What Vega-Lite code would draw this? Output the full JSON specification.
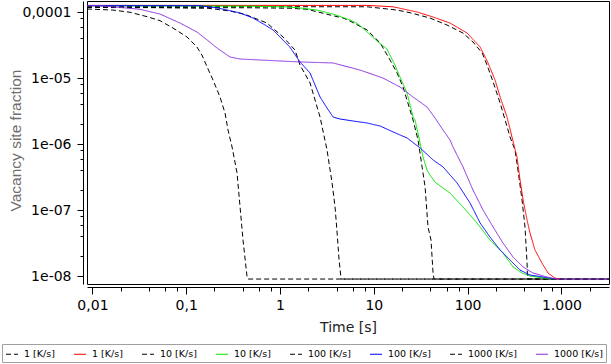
{
  "$schema": "https://vega.github.io/schema/vega-lite/v6.json",
  "width": 522,
  "height": 283,
  "autosize": "none",
  "padding": {"left": 87, "top": 1, "right": 2, "bottom": 80},
  "background": "white",
  "config": {
    "view": {"stroke": "black", "strokeWidth": 1},
    "font": "DejaVu Sans",
    "legend": {
      "orient": "none",
      "legendX": -85,
      "legendY": 343,
      "direction": "horizontal",
      "columns": 8,
      "gridAlign": "each",
      "padding": 3,
      "strokeColor": "#a0a0a0",
      "fillColor": "white",
      "symbolType": "stroke",
      "symbolSize": 144,
      "symbolStrokeWidth": 1.2,
      "labelFont": "DejaVu Sans",
      "labelFontSize": 9.5,
      "labelColor": "black",
      "labelOffset": 5,
      "columnPadding": 16,
      "rowPadding": 0
    }
  },
  "datasets": {
    "curves": [
      {"s":"d1","t":0.00875,"v":1.21e-4},{"s":"d1","t":8.47,"v":1.2e-4},{"s":"d1","t":17.7,"v":1.07e-4},{"s":"d1","t":24.3,"v":9.76e-5},{"s":"d1","t":39.7,"v":8.1e-5},{"s":"d1","t":60.3,"v":6.35e-5},{"s":"d1","t":89.3,"v":4.8e-5},{"s":"d1","t":114,"v":3.51e-5},{"s":"d1","t":143,"v":2.39e-5},{"s":"d1","t":161,"v":1.57e-5},{"s":"d1","t":187,"v":8.7e-6},{"s":"d1","t":222,"v":4.18e-6},{"s":"d1","t":251,"v":2.31e-6},{"s":"d1","t":283,"v":1.28e-6},{"s":"d1","t":320,"v":8.1e-7},{"s":"d1","t":344,"v":4.04e-7},{"s":"d1","t":380,"v":1.42e-7},{"s":"d1","t":409,"v":5.52e-8},{"s":"d1","t":430,"v":1.57e-8},{"s":"d1","t":435,"v":9e-9},{"s":"d1","t":3200,"v":9e-9},

      {"s":"d10","t":0.00875,"v":1.17e-4},{"s":"d10","t":0.481,"v":1.16e-4},{"s":"d10","t":1.28,"v":1.14e-4},{"s":"d10","t":1.94,"v":1.1e-4},{"s":"d10","t":3.42,"v":9e-5},{"s":"d10","t":4.71,"v":8.1e-5},{"s":"d10","t":5.57,"v":7.3e-5},{"s":"d10","t":8.47,"v":5.34e-5},{"s":"d10","t":11.7,"v":3.39e-5},{"s":"d10","t":14.9,"v":1.87e-5},{"s":"d10","t":17.7,"v":1.19e-5},{"s":"d10","t":20.5,"v":7.3e-6},{"s":"d10","t":24.3,"v":3.27e-6},{"s":"d10","t":26.2,"v":2.31e-6},{"s":"d10","t":29.6,"v":1.15e-6},{"s":"d10","t":32.7,"v":4.49e-7},{"s":"d10","t":35.2,"v":2.23e-7},{"s":"d10","t":37.8,"v":5.52e-8},{"s":"d10","t":40.7,"v":3.5e-8},{"s":"d10","t":42.8,"v":1.11e-8},{"s":"d10","t":43.8,"v":9e-9},{"s":"d10","t":3200,"v":9e-9},

      {"s":"d100","t":0.00875,"v":1.18e-4},{"s":"d100","t":0.0411,"v":1.17e-4},{"s":"d100","t":0.171,"v":1.14e-4},{"s":"d100","t":0.293,"v":1.035e-4},{"s":"d100","t":0.424,"v":9.2e-5},{"s":"d100","t":0.569,"v":7.8e-5},{"s":"d100","t":0.726,"v":6.8e-5},{"s":"d100","t":1.076,"v":4.18e-5},{"s":"d100","t":1.445,"v":2.65e-5},{"s":"d100","t":1.633,"v":1.57e-5},{"s":"d100","t":2.09,"v":8.4e-6},{"s":"d100","t":2.67,"v":2.56e-6},{"s":"d100","t":3.17,"v":8.1e-7},{"s":"d100","t":3.59,"v":2.56e-7},{"s":"d100","t":3.86,"v":1.11e-7},{"s":"d100","t":4.06,"v":4.49e-8},{"s":"d100","t":4.26,"v":1.75e-8},{"s":"d100","t":4.48,"v":9e-9},{"s":"d100","t":3200,"v":9e-9},

      {"s":"d1000","t":0.00875,"v":1.11e-4},{"s":"d1000","t":0.01205,"v":1.09e-4},{"s":"d1000","t":0.0166,"v":1.07e-4},{"s":"d1000","t":0.0252,"v":9.9e-5},{"s":"d1000","t":0.0382,"v":8.5e-5},{"s":"d1000","t":0.0526,"v":7.38e-5},{"s":"d1000","t":0.0722,"v":5.72e-5},{"s":"d1000","t":0.102,"v":4.18e-5},{"s":"d1000","t":0.13,"v":2.95e-5},{"s":"d1000","t":0.147,"v":2.23e-5},{"s":"d1000","t":0.167,"v":1.47e-5},{"s":"d1000","t":0.193,"v":9.33e-6},{"s":"d1000","t":0.229,"v":5.15e-6},{"s":"d1000","t":0.259,"v":2.95e-6},{"s":"d1000","t":0.279,"v":1.63e-6},{"s":"d1000","t":0.308,"v":9e-7},{"s":"d1000","t":0.348,"v":3.64e-7},{"s":"d1000","t":0.375,"v":1.11e-7},{"s":"d1000","t":0.403,"v":3.5e-8},{"s":"d1000","t":0.445,"v":9.7e-9},{"s":"d1000","t":0.455,"v":9e-9},{"s":"d1000","t":3200,"v":9e-9},

      {"s":"s1","t":0.00875,"v":1.26e-4},{"s":"s1","t":8.47,"v":1.26e-4},{"s":"s1","t":16,"v":1.2e-4},{"s":"s1","t":28.9,"v":1e-4},{"s":"s1","t":42.8,"v":8.4e-5},{"s":"s1","t":64.9,"v":6.8e-5},{"s":"s1","t":98.6,"v":4.8e-5},{"s":"s1","t":136,"v":2.95e-5},{"s":"s1","t":165,"v":1.69e-5},{"s":"s1","t":196,"v":9.33e-6},{"s":"s1","t":222,"v":5.15e-6},{"s":"s1","t":263,"v":2.56e-6},{"s":"s1","t":297,"v":1.28e-6},{"s":"s1","t":336,"v":6.35e-7},{"s":"s1","t":362,"v":2.85e-7},{"s":"s1","t":390,"v":1.42e-7},{"s":"s1","t":430,"v":7.05e-8},{"s":"s1","t":462,"v":4.49e-8},{"s":"s1","t":522,"v":2.48e-8},{"s":"s1","t":621,"v":1.57e-8},{"s":"s1","t":719,"v":1.11e-8},{"s":"s1","t":855,"v":9.3e-9},{"s":"s1","t":966,"v":9e-9},

      {"s":"s10","t":0.00875,"v":1.245e-4},{"s":"s10","t":0.481,"v":1.225e-4},{"s":"s10","t":1.28,"v":1.19e-4},{"s":"s10","t":1.633,"v":1.15e-4},{"s":"s10","t":2.48,"v":1.07e-4},{"s":"s10","t":3.67,"v":9.3e-5},{"s":"s10","t":5.57,"v":7.57e-5},{"s":"s10","t":6.79,"v":6.58e-5},{"s":"s10","t":8.47,"v":4.98e-5},{"s":"s10","t":11.1,"v":3.51e-5},{"s":"s10","t":13.8,"v":2.75e-5},{"s":"s10","t":16.8,"v":1.57e-5},{"s":"s10","t":19,"v":1.035e-5},{"s":"s10","t":22.6,"v":5.93e-6},{"s":"s10","t":26.2,"v":2.56e-6},{"s":"s10","t":27.5,"v":2.31e-6},{"s":"s10","t":31.1,"v":1.035e-6},{"s":"s10","t":33.5,"v":6.35e-7},{"s":"s10","t":36.9,"v":4.04e-7},{"s":"s10","t":39.7,"v":3.39e-7},{"s":"s10","t":44.9,"v":2.65e-7},{"s":"s10","t":54.7,"v":2.15e-7},{"s":"s10","t":64.9,"v":1.81e-7},{"s":"s10","t":89.3,"v":1.11e-7},{"s":"s10","t":126,"v":6.35e-8},{"s":"s10","t":173,"v":3.5e-8},{"s":"s10","t":238,"v":2.23e-8},{"s":"s10","t":305,"v":1.37e-8},{"s":"s10","t":380,"v":1.11e-8},{"s":"s10","t":462,"v":1e-8},{"s":"s10","t":668,"v":9.3e-9},{"s":"s10","t":855,"v":9e-9},

      {"s":"s100","t":0.00875,"v":1.245e-4},{"s":"s100","t":0.14,"v":1.245e-4},{"s":"s100","t":0.218,"v":1.15e-4},{"s":"s100","t":0.272,"v":1.07e-4},{"s":"s100","t":0.375,"v":9.66e-5},{"s":"s100","t":0.516,"v":8.1e-5},{"s":"s100","t":0.693,"v":6.35e-5},{"s":"s100","t":0.842,"v":5.34e-5},{"s":"s100","t":1.27,"v":2.95e-5},{"s":"s100","t":1.633,"v":1.75e-5},{"s":"s100","t":2.09,"v":1.19e-5},{"s":"s100","t":2.67,"v":5.15e-6},{"s":"s100","t":3.17,"v":3.51e-6},{"s":"s100","t":3.68,"v":2.56e-6},{"s":"s100","t":4.38,"v":2.39e-6},{"s":"s100","t":6.03,"v":2.23e-6},{"s":"s100","t":8.5,"v":2.08e-6},{"s":"s100","t":11.7,"v":1.87e-6},{"s":"s100","t":16.1,"v":1.52e-6},{"s":"s100","t":22.7,"v":1.23e-6},{"s":"s100","t":31.2,"v":8.7e-7},{"s":"s100","t":43,"v":5.7e-7},{"s":"s100","t":54.7,"v":4.49e-7},{"s":"s100","t":77.3,"v":2.56e-7},{"s":"s100","t":106,"v":1.28e-7},{"s":"s100","t":136,"v":6.35e-8},{"s":"s100","t":173,"v":3.9e-8},{"s":"s100","t":222,"v":2.48e-8},{"s":"s100","t":283,"v":1.75e-8},{"s":"s100","t":362,"v":1.23e-8},{"s":"s100","t":462,"v":1.035e-8},{"s":"s100","t":637,"v":9.66e-9},{"s":"s100","t":855,"v":9e-9},

      {"s":"s1000","t":0.00875,"v":1.245e-4},{"s":"s1000","t":0.01205,"v":1.24e-4},{"s":"s1000","t":0.0166,"v":1.2e-4},{"s":"s1000","t":0.0321,"v":1.1e-4},{"s":"s1000","t":0.0526,"v":9.3e-5},{"s":"s1000","t":0.0859,"v":6.8e-5},{"s":"s1000","t":0.13,"v":4.98e-5},{"s":"s1000","t":0.167,"v":3.77e-5},{"s":"s1000","t":0.213,"v":2.85e-5},{"s":"s1000","t":0.293,"v":2.08e-5},{"s":"s1000","t":0.375,"v":1.94e-5},{"s":"s1000","t":1,"v":1.81e-5},{"s":"s1000","t":1.633,"v":1.75e-5},{"s":"s1000","t":3.67,"v":1.69e-5},{"s":"s1000","t":7.13,"v":1.32e-5},{"s":"s1000","t":12.5,"v":1e-5},{"s":"s1000","t":19,"v":7.3e-6},{"s":"s1000","t":26.2,"v":5.15e-6},{"s":"s1000","t":36.9,"v":3.64e-6},{"s":"s1000","t":44.9,"v":2.48e-6},{"s":"s1000","t":54.7,"v":1.63e-6},{"s":"s1000","t":64.9,"v":1.15e-6},{"s":"s1000","t":69.8,"v":9e-7},{"s":"s1000","t":89.3,"v":4.49e-7},{"s":"s1000","t":114,"v":2.01e-7},{"s":"s1000","t":146,"v":1e-7},{"s":"s1000","t":187,"v":5.52e-8},{"s":"s1000","t":238,"v":3.16e-8},{"s":"s1000","t":305,"v":1.94e-8},{"s":"s1000","t":390,"v":1.37e-8},{"s":"s1000","t":498,"v":1.11e-8},{"s":"s1000","t":701,"v":9.66e-9},{"s":"s1000","t":897,"v":9e-9},{"s":"s1000","t":3200,"v":9e-9}
    ]
  },
  "data": {"name": "curves"},
  "mark": {"type": "line", "strokeWidth": 1, "clip": true},
  "encoding": {
    "x": {
      "field": "t",
      "type": "quantitative",
      "scale": {"type": "log", "domain": [0.00875, 3214], "nice": false},
      "axis": {
        "values": [0.01,0.02,0.04,0.06,0.08,0.1,0.2,0.4,0.6,0.8,1,2,4,6,8,10,20,40,60,80,100,200,400,600,800,1000,2000],
        "labelExpr": "datum.value==0.01?'0,01':datum.value==0.1?'0,1':datum.value==1?'1':datum.value==10?'10':datum.value==100?'100':datum.value==1000?'1.000':''",
        "tickSize": {"condition": {"test": "indexof([0.01,0.1,1,10,100,1000],datum.value)>=0", "value": 7}, "value": 4},
        "offset": 3,
        "grid": false,
        "domainColor": "black",
        "tickColor": "black",
        "labelColor": "black",
        "labelFont": "DejaVu Sans",
        "labelFontSize": 14,
        "labelPadding": 4,
        "labelFlush": false,
        "labelOverlap": false,
        "labelBound": false,
        "title": "Time [s]",
        "titleFont": "DejaVu Sans",
        "titleFontSize": 14,
        "titleFontWeight": "normal",
        "titleColor": "#222222",
        "titleX": 261,
        "titleY": 40,
        "titleBaseline": "middle"
      }
    },
    "y": {
      "field": "v",
      "type": "quantitative",
      "scale": {"type": "log", "domain": [7.57e-9, 1.468e-4], "nice": false},
      "axis": {
        "values": [1e-8,2e-8,4e-8,6e-8,8e-8,1e-7,2e-7,4e-7,6e-7,8e-7,1e-6,2e-6,4e-6,6e-6,8e-6,1e-5,2e-5,4e-5,6e-5,8e-5,1e-4],
        "labelExpr": "datum.value==1e-4?'0,0001':datum.value==1e-5?'1e-05':datum.value==1e-6?'1e-06':datum.value==1e-7?'1e-07':datum.value==1e-8?'1e-08':''",
        "tickSize": {"condition": {"test": "indexof([1e-8,1e-7,1e-6,1e-5,1e-4],datum.value)>=0", "value": 6}, "value": 3},
        "offset": 4,
        "grid": false,
        "domainColor": "black",
        "tickColor": "black",
        "labelColor": "black",
        "labelFont": "DejaVu Sans",
        "labelFontSize": 14,
        "labelPadding": 6,
        "labelOverlap": false,
        "labelBound": false,
        "labelFlush": false,
        "title": "Vacancy site fraction",
        "titleFont": "Liberation Sans",
        "titleFontSize": 15.5,
        "titleFontWeight": "normal",
        "titleColor": "#6e6e6e",
        "titleAngle": 270,
        "titleAlign": "center",
        "titleBaseline": "middle",
        "titleX": -68,
        "titleY": 139
      }
    },
    "color": {
      "field": "s",
      "type": "nominal",
      "scale": {
        "domain": ["d1","s1","d10","s10","d100","s100","d1000","s1000"],
        "range": ["#000000","#ff0000","#000000","#00e600","#000000","#0000ff","#000000","#8a2be2"]
      },
      "legend": {"title": null, "labelExpr": "replace(replace(datum.label,'d',''),'s','') + ' [K/s]'"}
    },
    "strokeDash": {
      "field": "s",
      "type": "nominal",
      "scale": {
        "domain": ["d1","s1","d10","s10","d100","s100","d1000","s1000"],
        "range": [[5,3],[1,0],[5,3],[1,0],[5,3],[1,0],[5,3],[1,0]]
      },
      "legend": {"title": null, "labelExpr": "replace(replace(datum.label,'d',''),'s','') + ' [K/s]'"}
    }
  }
}
